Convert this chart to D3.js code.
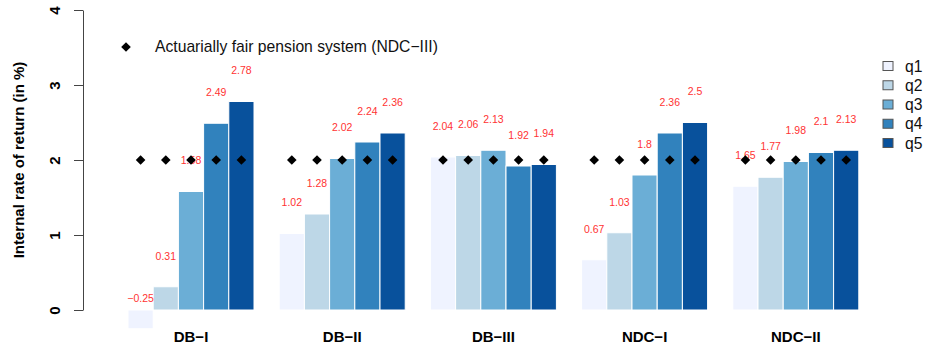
<!DOCTYPE html>
<html>
<head>
<meta charset="utf-8">
<script src="https://cdn.jsdelivr.net/npm/d3@7"></script>
<style>
  html, body { margin: 0; padding: 0; background: #fff; }
  svg { display: block; font-family: "Liberation Sans", Arial, Helvetica, sans-serif; }
</style>
</head>
<body>
<svg id="chart" width="932" height="352"></svg>
<script>
// Pension schemes on the x axis
const schemes = ["DB\u2212I", "DB\u2212II", "DB\u2212III", "NDC\u2212I", "NDC\u2212II"];
// Income quintiles (one bar per quintile in each scheme)
const quintiles = ["q1", "q2", "q3", "q4", "q5"];
// Internal rate of return (in %) per quintile, one array per scheme
const dbI   = [-0.25, 0.31, 1.58, 2.49, 2.78];
const dbII  = [1.02, 1.28, 2.02, 2.24, 2.36];
const dbIII = [2.04, 2.06, 2.13, 1.92, 1.94];
const ndcI  = [0.67, 1.03, 1.8, 2.36, 2.5];
const ndcII = [1.65, 1.77, 1.98, 2.1, 2.13];
// Rate of return of the actuarially fair system (NDC-III), per scheme
const fairRate = [2, 2, 2, 2, 2];
// Y axis ticks
const yTicks = [0, 1, 2, 3, 4];

const values = [dbI, dbII, dbIII, ndcI, ndcII];
const colors = ["#eff3ff", "#bdd7e7", "#6baed6", "#3182bd", "#08519c"];
const font = '"Liberation Sans", Arial, Helvetica, sans-serif';

const svg = d3.select("#chart");

const y = d3.scaleLinear().domain([0, 4]).range([310, 10]);
const x0 = d3.scaleBand().domain(schemes).range([128, 858.8]).paddingInner(1 / 6).paddingOuter(0);
const x1 = d3.scaleBand().domain(quintiles).range([0, x0.bandwidth()]);
const color = d3.scaleOrdinal().domain(quintiles).range(colors);

// Bars
const groups = svg.append("g").selectAll("g")
  .data(schemes.map((s, i) => ({ scheme: s, vals: values[i], fair: fairRate[i] })))
  .join("g")
  .attr("transform", d => `translate(${x0(d.scheme)},0)`);

groups.selectAll("rect")
  .data(d => d.vals.map((v, j) => ({ q: quintiles[j], v })))
  .join("rect")
  .attr("x", d => x1(d.q))
  .attr("y", d => Math.min(y(d.v), y(0)))
  .attr("width", x1.bandwidth())
  .attr("height", d => Math.abs(y(d.v) - y(0)))
  .attr("fill", d => color(d.q))
  .attr("stroke", "#ffffff")
  .attr("stroke-width", 1);

// Value labels
groups.selectAll("text.val")
  .data(d => d.vals.map((v, j) => ({ q: quintiles[j], v })))
  .join("text")
  .attr("class", "val")
  .attr("x", d => x1(d.q) + x1.bandwidth() / 2)
  .attr("y", d => y(d.v + 0.41))
  .attr("dy", "0.35em")
  .attr("text-anchor", "middle")
  .attr("fill", "#ff3333")
  .style("font-size", "10.5px")
  .text(d => String(d.v).replace("-", "\u2212"));

// Fair-system markers
const diamond = "M0,-4.8L4.8,0L0,4.8L-4.8,0Z";
groups.selectAll("path.fair")
  .data(d => quintiles.map(q => ({ q, v: d.fair })))
  .join("path")
  .attr("class", "fair")
  .attr("d", diamond)
  .attr("fill", "#000")
  .attr("transform", d => `translate(${x1(d.q) + x1.bandwidth() / 2},${y(d.v)})`);

// Group labels
svg.append("g").selectAll("text")
  .data(schemes)
  .join("text")
  .attr("x", d => x0(d) + x0.bandwidth() / 2)
  .attr("y", 342)
  .attr("text-anchor", "middle")
  .style("font-size", "15px")
  .style("font-weight", "bold")
  .attr("fill", "#000")
  .text(d => d);

// Y axis
const yAxis = svg.append("g")
  .attr("transform", "translate(83,0)")
  .call(d3.axisLeft(y).tickValues(yTicks).tickSize(9).tickSizeOuter(0).tickFormat(d3.format("d")));
yAxis.select(".domain").attr("stroke", "#444");
yAxis.selectAll(".tick line").attr("stroke", "#444");
yAxis.selectAll(".tick text")
  .attr("x", null).attr("dy", null)
  .attr("transform", "translate(-23,0) rotate(-90)")
  .attr("text-anchor", "middle")
  .attr("fill", "#000")
  .style("font-family", font)
  .style("font-size", "15px")
  .style("font-weight", "bold");

svg.append("text")
  .attr("transform", `translate(24,${(y(0) + y(4)) / 2}) rotate(-90)`)
  .attr("text-anchor", "middle")
  .style("font-size", "15px")
  .style("font-weight", "bold")
  .text("Internal rate of return (in %)");

// Legend: fair system marker
svg.append("path")
  .attr("d", diamond)
  .attr("transform", "translate(126,47)")
  .attr("fill", "#000");
svg.append("text")
  .attr("x", 155).attr("y", 47).attr("dy", "0.35em")
  .style("font-size", "15.7px")
  .attr("fill", "#111")
  .text("Actuarially fair pension system (NDC\u2212III)");

// Legend: quintiles
const leg = svg.append("g").selectAll("g")
  .data(quintiles)
  .join("g")
  .attr("transform", (d, i) => `translate(883,${66 + i * 19.25})`);
leg.append("rect")
  .attr("x", 0).attr("y", -4.5)
  .attr("width", 10).attr("height", 9)
  .attr("fill", d => color(d))
  .attr("stroke", "#555")
  .attr("stroke-width", 1);
leg.append("text")
  .attr("x", 22).attr("y", 0).attr("dy", "0.35em")
  .style("font-size", "15.7px")
  .attr("fill", "#111")
  .text(d => d);
</script>
</body>
</html>
